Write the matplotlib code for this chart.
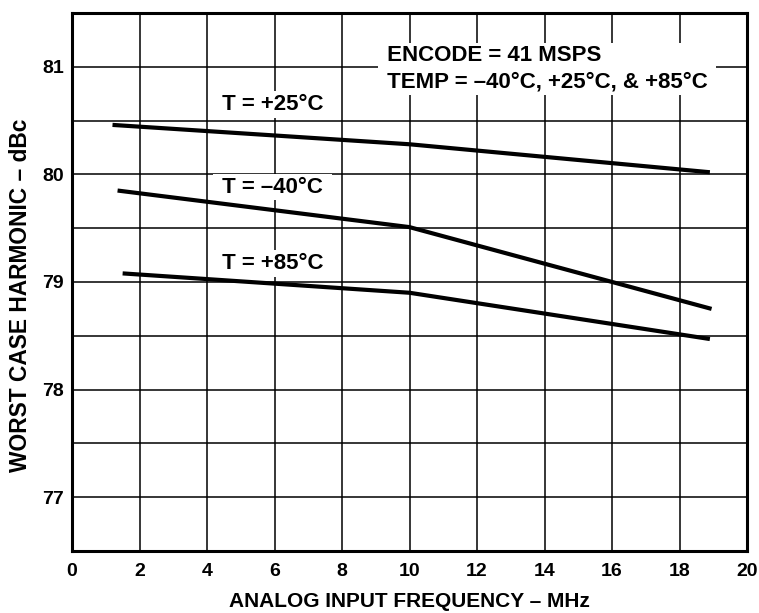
import matplotlib
matplotlib.use("Agg")
import matplotlib.pyplot as plt

plt.rcParams['font.family'] = ['Liberation Sans', 'DejaVu Sans']

# data
freq_25 = [1.2, 10.0, 18.9]
thd_25 = [80.46, 80.28, 80.02]
freq_m40 = [1.35, 10.0, 18.95]
thd_m40 = [79.85, 79.51, 78.75]
freq_85 = [1.5, 10.0, 18.9]
thd_85 = [79.08, 78.90, 78.47]

x_ticks = [0, 2, 4, 6, 8, 10, 12, 14, 16, 18, 20]
y_ticks = [77, 78, 79, 80, 81]

fig = plt.figure(figsize=(7.59, 6.13), dpi=100)
ax = fig.add_axes([72/759, 1-551/613, (747-72)/759, (551-13)/613])
ax.set_xlim(0, 20)
ax.set_ylim(76.5, 81.5)

for v in range(0, 21, 2):
    ax.axvline(v, color='black', lw=1.1, zorder=1)
for k in range(0, 11):
    ax.axhline(76.5 + 0.5*k, color='black', lw=1.1, zorder=1)

for xs, ys in [(freq_25, thd_25), (freq_m40, thd_m40), (freq_85, thd_85)]:
    ax.plot(xs, ys, color='black', lw=3.0, solid_capstyle='butt', zorder=3)

bb = dict(facecolor='white', edgecolor='none', pad=2)
tk = dict(fontsize=16, fontweight='bold', ha='left', va='baseline', zorder=4, bbox=bb)
ax.text(4.27, 80.60, " T = +25°C ", **tk)
ax.text(4.27, 79.83, " T = –40°C ", **tk)
ax.text(4.27, 79.12, " T = +85°C ", **tk)
ax.text(9.15, 80.81, " ENCODE = 41 MSPS \n TEMP = –40°C, +25°C, & +85°C ",
        linespacing=1.3, **tk)

ax.set_xticks(x_ticks)
ax.set_yticks(y_ticks)
ax.set_xticklabels([str(t) for t in x_ticks], fontweight='bold', fontsize=14)
ax.set_yticklabels([str(t) for t in y_ticks], fontweight='bold', fontsize=14)
ax.tick_params(axis='x', length=0, pad=9)
ax.tick_params(axis='y', length=0, pad=6)
for s in ax.spines.values():
    s.set_linewidth(2.2)
    s.set_zorder(5)

ax.set_xlabel("ANALOG INPUT FREQUENCY – MHz", fontweight='bold', fontsize=15, labelpad=8)
ax.set_ylabel("WORST CASE HARMONIC – dBc", fontweight='bold', fontsize=16.4)
ax.yaxis.set_label_coords(-0.059, 0.476)

fig.savefig("out.png", dpi=100)
